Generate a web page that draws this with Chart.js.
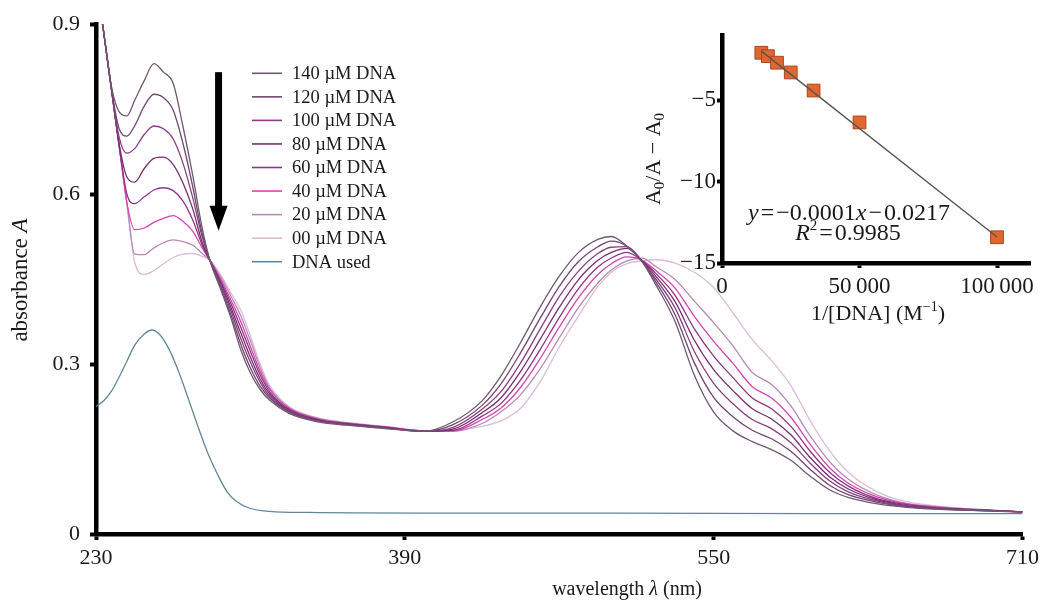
<!DOCTYPE html>
<html>
<head>
<meta charset="utf-8">
<script src="https://cdn.jsdelivr.net/npm/chart.js@4.4.1/dist/chart.umd.min.js"></script>
<style>
  html, body { margin: 0; padding: 0; background: #fff; }
  #wrap { position: relative; width: 1044px; height: 601px; }
  #main { position: absolute; left: 0; top: 0; }
  #inset { position: absolute; left: 640px; top: 20px; }
</style>
</head>
<body>
<div id="wrap">
  <canvas id="main" width="1044" height="601"></canvas>
  <canvas id="inset" width="400" height="330"></canvas>
</div>
<script>
// wavelength grid (nm) shared by the titration spectra
const wl = [230, 234, 238, 242, 246, 250, 255, 260, 265, 270, 275, 280, 285, 289,
  295, 300, 305, 310, 315, 320, 330, 345, 360, 380, 400,
  415, 430, 440, 450, 460, 470, 480, 490, 497, 505, 513,
  520, 530, 540, 550, 560, 570, 580, 590, 600, 610, 620, 635, 650, 670, 690, 710];

const a140 = [0.98, 0.885, 0.79, 0.745, 0.738, 0.765, 0.80, 0.83, 0.815, 0.795, 0.72, 0.635, 0.54, 0.483,
  0.428, 0.38, 0.325, 0.284, 0.255, 0.236, 0.213, 0.198, 0.192, 0.186, 0.181,
  0.198, 0.235, 0.28, 0.338, 0.40, 0.455, 0.497, 0.52, 0.525, 0.508, 0.48,
  0.44, 0.375, 0.28, 0.215, 0.182, 0.163, 0.149, 0.13, 0.102, 0.078, 0.064, 0.053, 0.047, 0.043, 0.041, 0.039];
const a120 = [0.98, 0.885, 0.785, 0.715, 0.702, 0.72, 0.755, 0.776, 0.77, 0.748, 0.69, 0.615, 0.53, 0.483,
  0.432, 0.386, 0.335, 0.293, 0.261, 0.24, 0.215, 0.199, 0.193, 0.187, 0.181,
  0.193, 0.227, 0.266, 0.32, 0.38, 0.437, 0.481, 0.507, 0.517, 0.508, 0.481,
  0.445, 0.387, 0.302, 0.241, 0.207, 0.183, 0.168, 0.146, 0.114, 0.086, 0.069, 0.056, 0.048, 0.044, 0.041, 0.039];
const a100 = [0.98, 0.885, 0.785, 0.70, 0.672, 0.68, 0.705, 0.72, 0.715, 0.697, 0.655, 0.595, 0.525, 0.483,
  0.436, 0.393, 0.345, 0.303, 0.268, 0.243, 0.216, 0.20, 0.193, 0.187, 0.181,
  0.188, 0.22, 0.252, 0.302, 0.361, 0.419, 0.464, 0.495, 0.506, 0.507, 0.481,
  0.45, 0.399, 0.322, 0.266, 0.23, 0.202, 0.186, 0.161, 0.125, 0.094, 0.074, 0.058, 0.049, 0.044, 0.042, 0.039];
const a80 = [0.98, 0.885, 0.785, 0.688, 0.63, 0.621, 0.645, 0.663, 0.665, 0.652, 0.62, 0.575, 0.515, 0.483,
  0.44, 0.399, 0.355, 0.312, 0.274, 0.247, 0.218, 0.201, 0.194, 0.188, 0.181,
  0.185, 0.214, 0.241, 0.287, 0.343, 0.40, 0.449, 0.483, 0.497, 0.504, 0.482,
  0.455, 0.41, 0.342, 0.29, 0.253, 0.221, 0.203, 0.175, 0.135, 0.101, 0.079, 0.06, 0.05, 0.045, 0.042, 0.039];
const a60 = [0.98, 0.885, 0.785, 0.685, 0.60, 0.583, 0.595, 0.607, 0.611, 0.606, 0.588, 0.555, 0.51, 0.483,
  0.443, 0.406, 0.365, 0.322, 0.281, 0.251, 0.22, 0.202, 0.195, 0.188, 0.182,
  0.183, 0.208, 0.231, 0.272, 0.325, 0.382, 0.433, 0.471, 0.487, 0.497, 0.482,
  0.46, 0.421, 0.362, 0.314, 0.276, 0.24, 0.221, 0.19, 0.146, 0.109, 0.084, 0.062, 0.052, 0.045, 0.042, 0.039];
const a40 = [0.98, 0.885, 0.785, 0.685, 0.585, 0.537, 0.54, 0.55, 0.557, 0.562, 0.552, 0.535, 0.505, 0.483,
  0.447, 0.412, 0.375, 0.331, 0.287, 0.255, 0.222, 0.203, 0.195, 0.189, 0.182,
  0.182, 0.202, 0.223, 0.259, 0.309, 0.365, 0.417, 0.458, 0.477, 0.489, 0.483,
  0.465, 0.434, 0.384, 0.34, 0.301, 0.26, 0.24, 0.206, 0.158, 0.117, 0.089, 0.065, 0.053, 0.046, 0.042, 0.039];
const a20 = [0.98, 0.885, 0.785, 0.685, 0.584, 0.494, 0.493, 0.505, 0.514, 0.519, 0.516, 0.51, 0.495, 0.483,
  0.451, 0.419, 0.385, 0.341, 0.294, 0.258, 0.223, 0.204, 0.196, 0.189, 0.182,
  0.181, 0.195, 0.216, 0.246, 0.291, 0.346, 0.40, 0.443, 0.466, 0.482, 0.487,
  0.472, 0.449, 0.411, 0.373, 0.332, 0.285, 0.264, 0.226, 0.173, 0.128, 0.096, 0.068, 0.054, 0.047, 0.043, 0.039];
const a00 = [0.98, 0.885, 0.785, 0.685, 0.584, 0.48, 0.458, 0.465, 0.477, 0.488, 0.494, 0.495, 0.49, 0.483,
  0.455, 0.425, 0.395, 0.35, 0.30, 0.262, 0.225, 0.205, 0.197, 0.19, 0.182,
  0.183, 0.19, 0.20, 0.222, 0.268, 0.33, 0.385, 0.437, 0.462, 0.477, 0.482,
  0.484, 0.478, 0.462, 0.435, 0.39, 0.343, 0.306, 0.262, 0.20, 0.147, 0.108, 0.074, 0.057, 0.048, 0.043, 0.039];

// DNA alone
const dnaWl = [230, 234, 238, 242, 246, 250, 255, 259, 263, 268, 273, 278, 283, 288, 293, 298, 303, 310, 320, 340, 400, 500, 600, 710];
const dnaAbs = [0.225, 0.235, 0.252, 0.277, 0.305, 0.333, 0.353, 0.36, 0.352, 0.325, 0.285, 0.237, 0.188, 0.142, 0.105, 0.074, 0.057, 0.045, 0.04, 0.038, 0.037, 0.037, 0.036, 0.036];

const seriesLabels = ['140 µM DNA', '120 µM DNA', '100 µM DNA', '80 µM DNA', '60 µM DNA',
  '40 µM DNA', '20 µM DNA', '00 µM DNA', 'DNA used'];
const xTicks = [230, 390, 550, 710];
const yTicks = [0, 0.3, 0.6, 0.9];

// inset: double reciprocal plot
const invDna = [14300, 16700, 20000, 25000, 33300, 50000, 100000];
const ratio = [-2.09, -2.30, -2.70, -3.30, -4.41, -6.37, -13.42];
const fitX = [14300, 100000];
const fitY = [-1.99, -13.40];
const insetXTicks = [0, 50000, 100000];
const insetYTicks = [-15, -10, -5];

// arrow marking the trend (data units)
const arrowNm = 293.5, arrowFrom = 0.815, arrowTo = 0.535;

const serif = "'Liberation Serif', 'DejaVu Serif', serif";
const ink = '#1a1a1a';
Chart.defaults.font.family = serif;
Chart.defaults.color = ink;

const lineColors = ['#6e5a70', '#72466e', '#8a3e86', '#74306c', '#8e3486', '#d844b0', '#b58ab4', '#dcbcd8'];
const curves = [a140, a120, a100, a80, a60, a40, a20, a00];

function runFont(r, base) {
  return (r.i ? 'italic ' : '') + (r.s || base) + 'px ' + serif;
}
function drawRuns(ctx, runs, cx, y, base) {
  let w = 0;
  runs.forEach(r => { ctx.font = runFont(r, base); r.w = ctx.measureText(r.t).width + (r.g || 0); w += r.w; });
  let x = cx - w / 2;
  ctx.textAlign = 'left';
  ctx.textBaseline = 'alphabetic';
  ctx.fillStyle = ink;
  runs.forEach(r => { ctx.font = runFont(r, base); ctx.fillText(r.t, x, y + (r.dy || 0)); x += r.w; });
}

const mainExtras = {
  id: 'mainExtras',
  afterDraw(chart) {
    const { ctx, scales: { x, y } } = chart;
    ctx.save();
    // arrow
    const ax = x.getPixelForValue(arrowNm);
    const top = y.getPixelForValue(arrowFrom);
    const tip = y.getPixelForValue(arrowTo);
    ctx.fillStyle = '#000';
    ctx.fillRect(ax - 3.5, top, 7, tip - top - 22);
    ctx.beginPath();
    ctx.moveTo(ax - 9, tip - 25);
    ctx.lineTo(ax + 9, tip - 25);
    ctx.lineTo(ax, tip);
    ctx.closePath();
    ctx.fill();

    // legend
    chart.data.datasets.forEach((ds, i) => {
      const ly = 73.3 + i * 23.55;
      ctx.strokeStyle = ds.borderColor;
      ctx.lineWidth = 1.6;
      ctx.beginPath();
      ctx.moveTo(252, ly);
      ctx.lineTo(282, ly);
      ctx.stroke();
      ctx.fillStyle = ink;
      ctx.font = '18.5px ' + serif;
      ctx.textAlign = 'left';
      ctx.textBaseline = 'middle';
      ctx.fillText(ds.label, 292, ly + 1);
    });

    // axis titles
    drawRuns(ctx, [{ t: 'wavelength ' }, { t: 'λ', i: true }, { t: ' (nm)' }], 627, 595, 20);
    ctx.translate(27, 280);
    ctx.rotate(-Math.PI / 2);
    drawRuns(ctx, [{ t: 'absorbance ' }, { t: 'A', i: true }], 0, 0, 23);
    ctx.restore();
  }
};

const spectra = curves.map((arr, i) => ({
  label: seriesLabels[i],
  data: wl.map((v, j) => ({ x: v, y: arr[j] })),
  borderColor: lineColors[i],
  borderWidth: 1.3
}));
spectra.push({
  label: seriesLabels[8],
  data: dnaWl.map((v, j) => ({ x: v, y: dnaAbs[j] })),
  borderColor: '#62879b',
  borderWidth: 1.3
});

new Chart(document.getElementById('main'), {
  type: 'line',
  data: { datasets: spectra },
  options: {
    responsive: false,
    animation: false,
    devicePixelRatio: 1,
    layout: { padding: { top: 24, right: 21, left: 0, bottom: 0 } },
    plugins: { legend: { display: false }, tooltip: { enabled: false } },
    elements: {
      point: { radius: 0 },
      line: { cubicInterpolationMode: 'monotone', fill: false }
    },
    scales: {
      x: {
        type: 'linear', min: 230, max: 710,
        afterBuildTicks: s => { s.ticks = xTicks.map(v => ({ value: v })); },
        afterFit: s => { s.height = 67; },
        border: { color: '#000', width: 4.5 },
        grid: { drawOnChartArea: false, drawTicks: true, tickLength: 6, tickWidth: 4, tickColor: '#000' },
        ticks: { font: { size: 22 }, padding: 5, maxRotation: 0, callback: v => String(v) }
      },
      y: {
        type: 'linear', min: 0, max: 0.9,
        afterBuildTicks: s => { s.ticks = yTicks.map(v => ({ value: v })); },
        afterFit: s => { s.width = 96; },
        border: { color: '#000', width: 4.5 },
        grid: { drawOnChartArea: false, drawTicks: true, tickLength: 6, tickWidth: 4, tickColor: '#000' },
        ticks: { font: { size: 22 }, padding: 10, callback: v => String(v) }
      }
    }
  },
  plugins: [mainExtras]
});

const insetExtras = {
  id: 'insetExtras',
  afterDraw(chart) {
    const { ctx } = chart;
    ctx.save();
    drawRuns(ctx, [{ t: 'y', i: true, g: 2 }, { t: '=', g: 2 }, { t: '\u22120.0001' }, { t: 'x', i: true, g: 2 },
      { t: '\u2212', g: 2 }, { t: '0.0217' }], 209, 199.5, 24);
    drawRuns(ctx, [{ t: 'R', i: true }, { t: '2', s: 15, dy: -10, g: 2 }, { t: '=', g: 2 }, { t: '0.9985' }], 208, 219.5, 24);
    drawRuns(ctx, [{ t: '1/[DNA] (M' }, { t: '\u22121', s: 14, dy: -9 }, { t: ')' }], 238, 300, 22);
    ctx.translate(20, 139);
    ctx.rotate(-Math.PI / 2);
    drawRuns(ctx, [{ t: 'A' }, { t: '0', s: 15, dy: 4 }, { t: '/A \u2212 A' }, { t: '0', s: 15, dy: 4 }], 0, 0, 22);
    ctx.restore();
  }
};

new Chart(document.getElementById('inset'), {
  type: 'scatter',
  data: {
    datasets: [
      {
        type: 'line',
        data: fitX.map((v, i) => ({ x: v, y: fitY[i] })),
        borderColor: '#555',
        borderWidth: 1.4,
        pointRadius: 0
      },
      {
        data: invDna.map((v, i) => ({ x: v, y: ratio[i] })),
        pointStyle: 'rect',
        pointRadius: 9,
        backgroundColor: '#e0672f',
        borderColor: '#a9461c',
        borderWidth: 1
      }
    ]
  },
  options: {
    responsive: false,
    animation: false,
    devicePixelRatio: 1,
    layout: { padding: { top: 15, right: 10, left: 0, bottom: 0 } },
    plugins: { legend: { display: false }, tooltip: { enabled: false } },
    scales: {
      x: {
        type: 'linear', min: 0, max: 112000,
        afterBuildTicks: s => { s.ticks = insetXTicks.map(v => ({ value: v })); },
        afterFit: s => { s.height = 87; },
        border: { color: '#000', width: 4.5 },
        grid: { drawOnChartArea: false, drawTicks: true, tickLength: 5, tickWidth: 4, tickColor: '#000' },
        ticks: {
          font: { size: 23 }, padding: 5, maxRotation: 0,
          callback: v => String(v).replace(/\B(?=(\d{3})+(?!\d))/g, '\u2009')
        }
      },
      y: {
        type: 'linear', min: -15, max: -1,
        afterBuildTicks: s => { s.ticks = insetYTicks.map(v => ({ value: v })); },
        afterFit: s => { s.width = 82; },
        border: { color: '#000', width: 4.5 },
        grid: { drawOnChartArea: false, drawTicks: true, tickLength: 5, tickWidth: 4, tickColor: '#000' },
        ticks: { font: { size: 23 }, padding: 1, callback: v => '\u2212' + Math.abs(v) }
      }
    }
  },
  plugins: [insetExtras]
});
</script>
</body>
</html>
